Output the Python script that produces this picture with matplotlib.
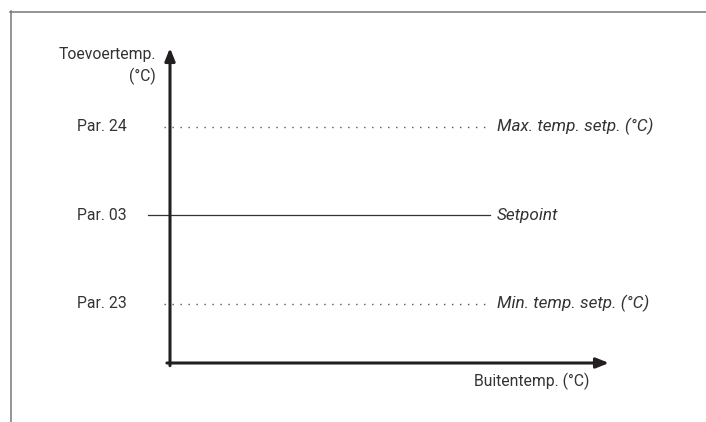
import matplotlib
matplotlib.use("Agg")
import matplotlib.pyplot as plt
from matplotlib.lines import Line2D

# ---- data ----
level_labels = ["Par. 23", "Par. 03", "Par. 24"]
level_values = [1, 2, 3]
level_names = ["Min. temp. setp. (°C)", "Setpoint", "Max. temp. setp. (°C)"]
level_styles = ["dotted", "solid", "dotted"]
y_label_lines = ["Toevoertemp.", "(°C)"]
x_label = "Buitentemp. (°C)"

W, H = 706, 422
fig = plt.figure(figsize=(W / 100, H / 100), dpi=100)
plt.rcParams['font.family'] = ['Roboto', 'DejaVu Sans']
FS = 11.3
FS_IT = 12.3
TXT = "#333333"

# frame (gray border, top and left)
fig.add_artist(Line2D([10.5 / W, 10.5 / W], [0, 1 - 11 / H], color="#777777", lw=1.1,
                      transform=fig.transFigure))
fig.add_artist(Line2D([10 / W, 1], [1 - 11.5 / H, 1 - 11.5 / H], color="#777777", lw=1.1,
                      transform=fig.transFigure))

# axes area: x from 170 to 609 px, y from 363 (bottom) to 48 (top) px
ax_l, ax_r, ax_b, ax_t = 170, 609, 363, 48
ax = fig.add_axes([ax_l / W, 1 - ax_b / H, (ax_r - ax_l) / W, (ax_b - ax_t) / H])
ax.set_xlim(0, 1)
ax.set_ylim(0.33, 3.89)
ax.axis("off")

ink = "#231f20"
# axis lines with arrows
ax.annotate("", xy=(0, 3.89), xytext=(0, 0.30),
            arrowprops=dict(arrowstyle="-|>,head_length=0.75,head_width=0.3", lw=2.2,
                            color=ink, shrinkA=0, shrinkB=0), annotation_clip=False)
ax.annotate("", xy=(1, 0.33), xytext=(-0.007, 0.33),
            arrowprops=dict(arrowstyle="-|>,head_length=0.75,head_width=0.3", lw=2.2,
                            color=ink, shrinkA=0, shrinkB=0), annotation_clip=False)

for lab, val, name, sty in zip(level_labels, level_values, level_names, level_styles):
    if sty == "dotted":
        ax.plot([-0.014, 0.729], [val, val], color="#555555", lw=1.0,
                linestyle=(0, (1, 4.75)), clip_on=False)
    else:
        ax.plot([-0.05, 0.729], [val, val], color="#333333", lw=0.9, clip_on=False)
    ax.text(-0.098, val, lab, ha="right", va="center", fontsize=FS, color=TXT)
    ax.text(0.745, val, name, ha="left", va="center", fontsize=FS_IT, style="italic",
            color=TXT)

# y label (two lines, right aligned)
ax.text(-0.032, 3.82, y_label_lines[0], ha="right", va="center", fontsize=FS, color=TXT)
ax.text(-0.032, 3.565, y_label_lines[1], ha="right", va="center", fontsize=FS, color=TXT)

# x label
ax.text(0.955, 0.12, x_label, ha="right", va="center", fontsize=FS, color=TXT)

fig.savefig("out.png", dpi=100)
